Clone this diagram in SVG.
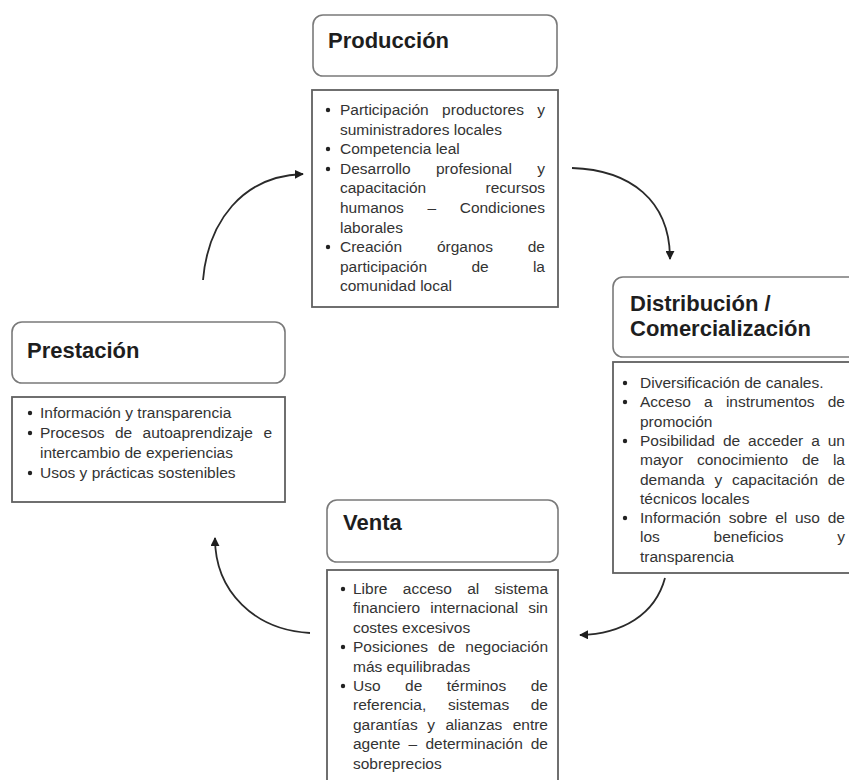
<svg xmlns="http://www.w3.org/2000/svg" width="849" height="780" viewBox="0 0 849 780">
<defs>
<style>
.hdr{fill:#fff;stroke:#7a7a7a;stroke-width:1.6}
.body{fill:#fff;stroke:#606060;stroke-width:1.8}
.ttl{font-family:"Liberation Sans",Arial,sans-serif;font-size:22px;font-weight:bold;fill:#1e1e1e}
.txt{font-family:"Liberation Sans",Arial,sans-serif;font-size:15.5px;fill:#333}
.end{text-anchor:end}
.bul{fill:#222}
.conn{fill:none;stroke:#2a2a2a;stroke-width:1.8}
</style>
<marker id="ah" viewBox="0 0 10 10" refX="9" refY="5" markerWidth="9" markerHeight="9" markerUnits="userSpaceOnUse" orient="auto">
<path d="M0,0 L10,5 L0,10 z" fill="#1e1e1e"/>
</marker>
</defs>
<rect width="849" height="780" fill="#fff"/>

<g id="produccion">
<rect class="hdr" x="313" y="15" width="244" height="61" rx="10"/>
<text class="ttl" x="328" y="48">Producción</text>
<rect class="body" x="312" y="90" width="246" height="217"/>
<g class="bul">
<circle cx="328" cy="110" r="2.2"/><circle cx="328" cy="149" r="2.2"/><circle cx="328" cy="169" r="2.2"/><circle cx="328" cy="247" r="2.2"/>
</g>
<g class="txt">
<text y="115"><tspan x="340">Participación</tspan><tspan x="442.1">productores</tspan><tspan x="545" class="end">y</tspan></text>
<text x="340" y="134.6">suministradores locales</text>
<text x="340" y="154.2">Competencia leal</text>
<text y="173.8"><tspan x="340">Desarrollo</tspan><tspan x="436">profesional</tspan><tspan x="545" class="end">y</tspan></text>
<text y="193.4"><tspan x="340">capacitación</tspan><tspan x="545" class="end">recursos</tspan></text>
<text y="213"><tspan x="340">humanos</tspan><tspan x="427.4">–</tspan><tspan x="545" class="end">Condiciones</tspan></text>
<text x="340" y="232.6">laborales</text>
<text y="252.2"><tspan x="340">Creación</tspan><tspan x="436.9">órganos</tspan><tspan x="545" class="end">de</tspan></text>
<text y="271.8"><tspan x="340">participación</tspan><tspan x="471.4">de</tspan><tspan x="545" class="end">la</tspan></text>
<text x="340" y="291.4">comunidad local</text>
</g>
</g>

<g id="distribucion">
<rect class="hdr" x="613" y="277" width="250" height="80" rx="10"/>
<text class="ttl" x="630" y="311">Distribución /</text>
<text class="ttl" x="630" y="336">Comercialización</text>
<rect class="body" x="613" y="362" width="250" height="211"/>
<g class="bul">
<circle cx="625" cy="383" r="2.2"/><circle cx="625" cy="402" r="2.2"/><circle cx="625" cy="441" r="2.2"/><circle cx="625" cy="518" r="2.2"/>
</g>
<g class="txt">
<text x="640" y="388">Diversificación de canales.</text>
<text y="407.3"><tspan x="640">Acceso</tspan><tspan x="704">a</tspan><tspan x="725.9">instrumentos</tspan><tspan x="845" class="end">de</tspan></text>
<text x="640" y="426.6">promoción</text>
<text y="445.9"><tspan x="640">Posibilidad</tspan><tspan x="722.9">de</tspan><tspan x="748.1">acceder</tspan><tspan x="811.2">a</tspan><tspan x="845" class="end">un</tspan></text>
<text y="465.2"><tspan x="640">mayor</tspan><tspan x="696.9">conocimiento</tspan><tspan x="802">de</tspan><tspan x="845" class="end">la</tspan></text>
<text y="484.5"><tspan x="640">demanda</tspan><tspan x="714.4">y</tspan><tspan x="731.9">capacitación</tspan><tspan x="845" class="end">de</tspan></text>
<text x="640" y="503.8">técnicos locales</text>
<text y="523.1"><tspan x="640">Información</tspan><tspan x="728.7">sobre</tspan><tspan x="775.2">el</tspan><tspan x="795">uso</tspan><tspan x="845" class="end">de</tspan></text>
<text y="542.4"><tspan x="640">los</tspan><tspan x="713.6">beneficios</tspan><tspan x="845" class="end">y</tspan></text>
<text x="640" y="561.7">transparencia</text>
</g>
</g>

<g id="prestacion">
<rect class="hdr" x="12" y="322" width="273" height="61" rx="10"/>
<text class="ttl" x="27" y="358">Prestación</text>
<rect class="body" x="12" y="397" width="273" height="105"/>
<g class="bul">
<circle cx="30" cy="413" r="2.2"/><circle cx="30" cy="433" r="2.2"/><circle cx="30" cy="473" r="2.2"/>
</g>
<g class="txt">
<text x="40" y="418">Información y transparencia</text>
<text y="438"><tspan x="40">Procesos</tspan><tspan x="115">de</tspan><tspan x="142.6">autoaprendizaje</tspan><tspan x="272" class="end">e</tspan></text>
<text x="40" y="458">intercambio de experiencias</text>
<text x="40" y="478">Usos y prácticas sostenibles</text>
</g>
</g>

<g id="venta">
<rect class="hdr" x="327" y="500" width="231" height="62" rx="10"/>
<text class="ttl" x="343" y="530">Venta</text>
<rect class="body" x="327" y="570" width="231" height="230"/>
<g class="bul">
<circle cx="343" cy="589" r="2.2"/><circle cx="343" cy="647" r="2.2"/><circle cx="343" cy="686" r="2.2"/>
</g>
<g class="txt">
<text y="594"><tspan x="353">Libre</tspan><tspan x="402.8">acceso</tspan><tspan x="467.2">al</tspan><tspan x="548" class="end">sistema</tspan></text>
<text y="613.4"><tspan x="353">financiero</tspan><tspan x="430.3">internacional</tspan><tspan x="548" class="end">sin</tspan></text>
<text x="353" y="632.8">costes excesivos</text>
<text y="652.2"><tspan x="353">Posiciones</tspan><tspan x="438">de</tspan><tspan x="548" class="end">negociación</tspan></text>
<text x="353" y="671.6">más equilibradas</text>
<text y="691"><tspan x="353">Uso</tspan><tspan x="405.1">de</tspan><tspan x="446.8">términos</tspan><tspan x="548" class="end">de</tspan></text>
<text y="710.4"><tspan x="353">referencia,</tspan><tspan x="448">sistemas</tspan><tspan x="548" class="end">de</tspan></text>
<text y="729.8"><tspan x="353">garantías</tspan><tspan x="427.2">y</tspan><tspan x="445.4">alianzas</tspan><tspan x="548" class="end">entre</tspan></text>
<text y="749.2"><tspan x="353">agente</tspan><tspan x="408.6">–</tspan><tspan x="425.4">determinación</tspan><tspan x="548" class="end">de</tspan></text>
<text x="353" y="768.6">sobreprecios</text>
</g>
</g>

<g id="connectors">
<path class="conn" d="M203,280 C208,222 242,176 303,174" marker-end="url(#ah)"/>
<path class="conn" d="M572,168 C630,170 670,200 670,259" marker-end="url(#ah)"/>
<path class="conn" d="M665,578 C655,615 622,634 580,635" marker-end="url(#ah)"/>
<path class="conn" d="M310,633 C255,630 215,592 215,538" marker-end="url(#ah)"/>
</g>
</svg>
